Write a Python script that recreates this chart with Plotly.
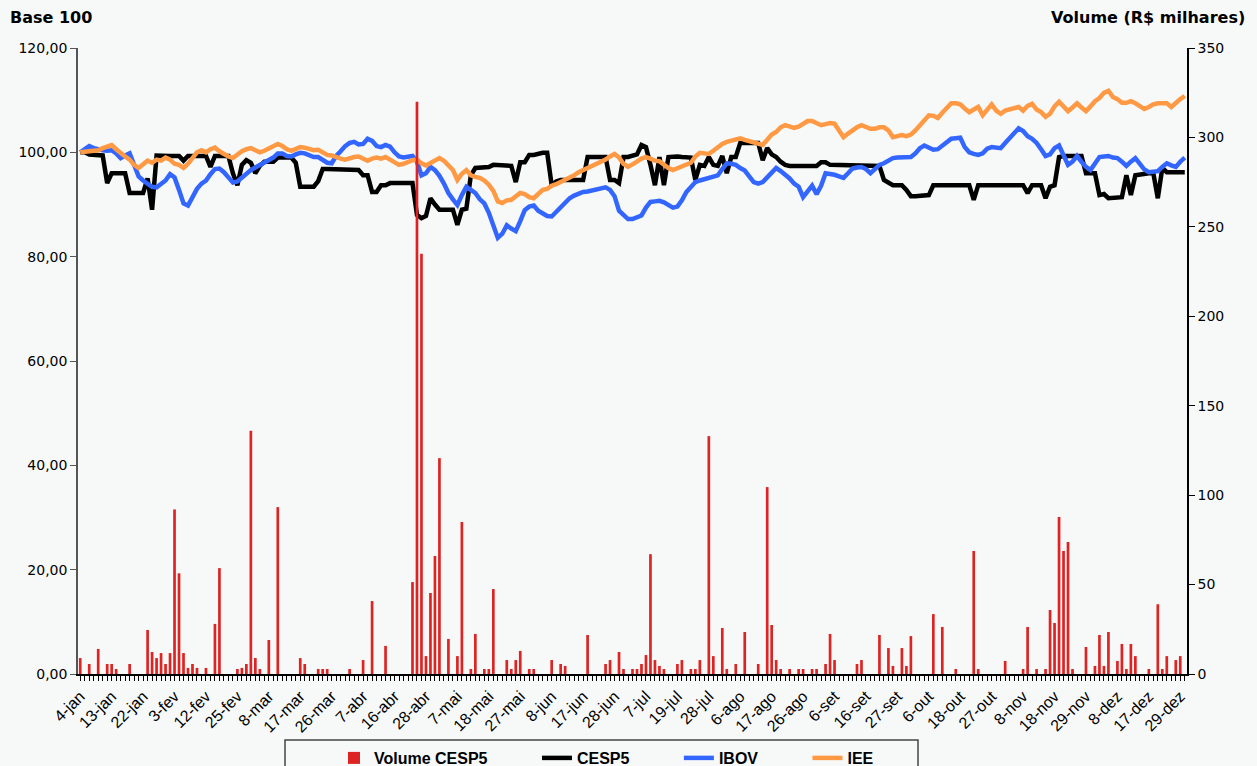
import plotly.graph_objects as go

tick_labels = ["4-jan", "13-jan", "22-jan", "3-fev", "12-fev", "25-fev", "8-mar", "17-mar",
               "26-mar", "7-abr", "16-abr", "28-abr", "7-mai", "18-mai", "27-mai", "8-jun",
               "17-jun", "28-jun", "7-jul", "19-jul", "28-jul", "6-ago", "17-ago", "26-ago",
               "6-set", "16-set", "27-set", "6-out", "18-out", "27-out", "8-nov", "18-nov",
               "29-nov", "8-dez", "17-dez", "29-dez"]

volume_cesp5 = [
    8.9, 0, 5.6, 0, 14, 0, 5.6, 5.6, 2.8, 0,
    0, 5.6, 0, 0, 0, 24.6, 12.3, 8.9, 11.7, 5.6,
    11.7, 92, 56.3, 11.7, 3.4, 5.6, 3.4, 0, 3.4, 0,
    28, 59.2, 0, 0, 0, 2.8, 3.4, 5.6, 136, 8.9,
    2.8, 0, 19, 0, 93.3, 0, 0, 0, 0, 8.9,
    5.6, 0, 0, 2.8, 2.8, 2.8, 0, 0, 0, 0,
    2.8, 0, 0, 7.8, 0, 40.8, 0, 0, 15.7, 0,
    0, 0, 0, 0, 51.4, 320, 235, 10, 45.3, 66,
    120.7, 0, 19.6, 0, 10, 85, 0, 2.8, 22.4, 0,
    2.8, 2.8, 47.5, 0, 0, 7.8, 2.8, 7.8, 12.9, 0,
    2.8, 2.8, 0, 0, 0, 7.8, 0, 5.6, 4.5, 0,
    0, 0, 0, 21.8, 0, 0, 0, 5.6, 7.8, 0,
    12.3, 2.8, 0, 2.8, 2.8, 5.6, 10.6, 67, 7.8, 4.5,
    2.8, 0, 0, 5.6, 7.8, 0, 2.8, 2.8, 7.8, 0,
    133, 10, 0, 25.7, 2.8, 0, 5.6, 0, 23.5, 0,
    0, 5.6, 0, 104.5, 27.4, 7.8, 2.8, 0, 2.8, 0,
    2.8, 2.8, 0, 2.8, 2.8, 0, 5.6, 22.4, 7.8, 0,
    0, 0, 0, 5.6, 7.8, 0, 0, 0, 21.8, 0,
    14.5, 4.5, 0, 14.5, 4.5, 21.2, 0, 0, 0, 0,
    33.5, 0, 26.3, 0, 0, 2.8, 0, 0, 0, 68.8,
    2.8, 0, 0, 0, 0, 0, 7.3, 0, 0, 0,
    2.8, 26.3, 0, 2.8, 0, 2.8, 35.8, 28.5, 87.8, 68.8,
    73.8, 2.8, 0, 0, 15.1, 0, 4.5, 21.8, 4.5, 23.5,
    0, 7.3, 16.8, 2.8, 16.8, 10, 0, 0, 2.8, 0,
    39, 2.8, 10, 0, 7.8, 10, 0]

cesp5 = [
    100.0, 100.0, 99.6, 99.6, 99.4, 99.4, 94.1, 96.0, 96.0, 96.0,
    96.0, 92.2, 92.2, 92.2, 92.2, 95.0, 89.0, 99.4, 99.3, 99.3,
    99.3, 99.3, 99.3, 98.4, 99.3, 99.3, 99.3, 99.3, 99.3, 97.2,
    99.3, 99.3, 99.3, 99.3, 96.0, 93.7, 97.6, 98.5, 98.0, 96.0,
    97.4, 98.2, 98.2, 98.2, 99.0, 99.0, 99.0, 99.0, 98.0, 93.4,
    93.4, 93.4, 93.4, 94.5, 96.8, 96.8, 96.8, 96.8, 96.8, 96.8,
    96.6, 96.6, 96.6, 95.6, 95.6, 92.4, 92.4, 93.7, 93.7, 94.1,
    94.1, 94.1, 94.1, 94.1, 94.1, 88.0, 87.4, 87.8, 91.2, 90.0,
    89.0, 89.0, 89.0, 89.0, 86.1, 89.0, 89.2, 95.6, 97.0, 97.0,
    97.2, 97.2, 97.6, 97.6, 97.6, 97.6, 97.4, 94.3, 98.1, 98.1,
    99.5, 99.5, 99.8, 99.9, 99.9, 93.7, 94.4, 94.7, 94.7, 94.7,
    94.7, 94.7, 94.7, 99.1, 99.1, 99.1, 99.1, 99.1, 94.7, 94.7,
    94.1, 99.1, 99.1, 99.3, 99.6, 101.4, 101.0, 97.6, 93.7, 99.1,
    93.7, 99.1, 99.2, 99.2, 99.1, 99.1, 99.0, 94.7, 97.6, 97.4,
    99.1, 97.6, 97.4, 99.3, 96.0, 99.1, 99.1, 101.8, 101.8, 101.8,
    101.8, 101.8, 98.5, 100.8, 99.6, 99.1, 98.2, 97.6, 97.4, 97.4,
    97.4, 97.4, 97.4, 97.4, 97.4, 98.1, 98.1, 97.6, 97.6, 97.6,
    97.4, 97.4, 97.4, 97.4, 97.4, 97.4, 97.4, 97.4, 97.4, 94.7,
    94.2, 93.7, 93.7, 93.7, 92.8, 91.6, 91.6, 91.6, 91.6, 91.8,
    93.7, 93.7, 93.7, 93.7, 93.7, 93.7, 93.7, 93.7, 93.7, 90.9,
    93.7, 93.7, 93.7, 93.7, 93.7, 93.7, 93.7, 93.7, 93.7, 93.7,
    93.7, 92.2, 93.7, 93.7, 93.7, 91.2, 93.4, 93.7, 99.1, 99.3,
    99.3, 99.3, 99.3, 99.3, 96.0, 96.0, 96.0, 91.8, 92.0, 91.2,
    91.2, 91.2, 91.4, 95.6, 91.8, 95.6, 95.8, 96.0, 96.0, 96.0,
    91.2, 97.0, 96.2, 96.2, 96.2, 96.2, 96.2]

ibov = [
    100.0, 100.5, 101.2, 100.8, 100.5, 100.4, 100.3, 100.4, 99.8, 98.9,
    99.4, 99.8, 97.6, 95.4, 94.6, 93.9, 93.4, 93.3, 94.0, 94.6,
    95.8, 95.2, 92.8, 90.2, 89.8, 91.6, 93.0, 94.0, 94.6, 95.8,
    96.8, 96.9, 96.2, 95.2, 94.2, 94.4, 95.2, 96.0, 96.6, 97.1,
    97.6, 98.0, 98.4, 99.0, 99.8, 99.8, 99.3, 99.2, 99.6, 99.9,
    99.8, 99.4, 99.1, 99.1, 98.6, 98.0, 97.9, 99.3, 100.2, 101.2,
    101.8, 102.0, 101.5, 101.6, 102.6, 102.2, 101.2, 101.0, 101.4, 101.1,
    100.0, 99.2, 99.0, 99.2, 99.3, 98.2, 95.6, 96.0, 97.2, 96.6,
    95.5, 94.0, 92.2, 91.0, 89.9, 91.8, 93.4, 92.8, 92.2, 91.0,
    90.2, 88.4, 86.2, 83.6, 84.4, 86.0, 85.4, 84.9, 86.8, 88.9,
    89.6, 89.8, 88.8, 88.3, 87.8, 87.7, 88.6, 89.5, 90.4, 91.2,
    91.7, 92.1, 92.4, 92.5, 92.7, 92.8, 93.2, 93.3, 92.8, 91.6,
    88.8, 88.0, 87.2, 87.2, 87.5, 87.9, 89.4, 90.5, 90.6, 90.7,
    90.4, 89.9, 89.4, 89.6, 90.8, 92.4, 93.5, 94.3, 94.6, 94.9,
    95.1, 95.3, 95.6, 96.8, 97.9, 97.8, 97.6, 97.0, 96.5, 95.4,
    94.3, 94.0, 94.3, 95.2, 96.2, 97.0, 96.4, 95.8, 95.0, 94.0,
    93.4, 91.4, 92.6, 93.6, 92.0, 93.6, 96.0, 95.9, 95.7, 95.4,
    95.1, 96.0, 96.9, 97.1, 97.2, 96.8, 96.0, 96.8, 97.6, 97.9,
    98.4, 98.9, 99.0, 99.0, 99.1, 99.1, 99.8, 100.8, 101.3, 101.0,
    100.5, 100.6, 101.3, 102.0, 102.6, 102.7, 102.8, 101.0, 100.0, 99.7,
    99.5, 99.8, 100.7, 101.0, 100.9, 100.8, 101.8, 102.7, 103.8, 104.6,
    104.1, 103.1, 102.6, 101.8, 100.6, 99.3, 99.6, 100.8, 101.3, 99.4,
    97.6, 98.2, 99.3, 98.2, 97.2, 96.6, 98.0, 99.1, 99.2, 99.3,
    99.0, 98.9, 98.2, 97.4, 98.2, 98.9, 97.8, 96.7, 96.2, 96.3,
    96.4, 97.2, 97.9, 97.5, 97.2, 98.2, 99.0]

iee = [
    100.0, 100.1, 100.3, 100.5, 100.4, 100.8, 101.2, 101.4, 100.6, 99.8,
    99.2, 98.6, 97.6, 97.0, 97.6, 98.4, 98.0, 98.6, 98.4, 99.0,
    98.6, 97.8, 97.6, 97.0, 97.8, 98.8, 100.0, 100.4, 100.0, 100.6,
    100.9, 100.2, 99.6, 99.2, 98.9, 99.6, 100.2, 100.6, 100.8, 100.4,
    100.0, 100.3, 100.8, 101.2, 101.6, 101.2, 100.6, 100.3, 100.6, 101.0,
    100.9, 100.6, 100.4, 100.5, 100.0, 99.5, 99.4, 99.0, 98.8, 98.6,
    98.9, 99.1, 99.2, 98.8, 98.4, 98.8, 99.0, 98.8, 99.1, 98.6,
    98.0, 97.6, 97.8, 98.2, 98.5, 98.6, 97.9, 97.5, 98.0, 98.6,
    98.9, 98.4, 97.4, 96.6, 94.7, 95.9, 96.6, 95.6, 95.3, 95.1,
    94.6, 93.8, 92.6, 90.6, 90.3, 90.8, 90.9, 91.6, 92.2, 92.0,
    91.4, 91.2, 92.0, 92.8, 93.0, 93.6, 93.9, 94.3, 94.7, 95.0,
    95.6, 96.2, 96.6, 97.0, 97.4, 97.8, 98.1, 98.6, 99.2, 99.7,
    99.0, 97.8, 97.2, 97.6, 98.2, 98.8, 99.1, 98.8, 98.4, 98.3,
    97.6, 97.0, 96.6, 96.9, 97.3, 97.6, 98.0, 99.2, 99.9, 99.8,
    99.7, 100.3, 101.0, 101.6, 102.0, 102.3, 102.6, 102.7, 102.4, 102.2,
    102.0, 101.7, 101.4, 102.4, 103.4, 103.9, 104.8, 105.2, 104.9, 104.7,
    104.9, 105.5, 106.0, 106.0, 105.5, 105.2, 105.4, 105.6, 105.5, 104.2,
    102.9, 103.6, 104.3, 104.8, 105.2, 104.8, 104.5, 104.5, 104.8, 104.8,
    104.2, 102.9, 103.0, 103.3, 103.1, 103.4, 104.2, 105.2, 106.4, 107.1,
    107.0, 106.6, 107.6, 108.6, 109.4, 109.4, 109.2, 108.4, 107.7, 108.2,
    108.7, 107.1, 108.2, 109.2, 108.0, 107.4, 108.0, 108.3, 108.5, 108.7,
    108.0, 108.9, 109.3, 108.2, 107.7, 106.8, 107.4, 108.8, 109.7, 108.9,
    107.9, 108.6, 109.4, 108.6, 107.9, 108.8, 109.8, 110.4, 111.4, 111.8,
    110.6, 110.2, 109.5, 109.5, 109.8, 109.4, 108.8, 108.3, 108.7, 109.2,
    109.4, 109.4, 109.4, 108.7, 109.5, 110.2, 110.8]

series_names = ["Volume CESP5", "CESP5", "IBOV", "IEE"]

n = len(cesp5)
x = list(range(n))
ticktext = [tick_labels[i // 7] if i % 7 == 0 and i // 7 < len(tick_labels) else "" for i in x]

PLOT_L, PLOT_R, PLOT_T, PLOT_B = 78, 1187, 48, 674
PW, PH = PLOT_R - PLOT_L, PLOT_B - PLOT_T


def px(xp):
    return (xp - PLOT_L) / PW


def py(yp):
    return (PLOT_B - yp) / PH


pad = "\u00a0" * 10

fig = go.Figure()
fig.add_trace(go.Bar(x=x, y=volume_cesp5, name=series_names[0] + pad, yaxis="y2",
                     width=0.6, marker=dict(color="#DE2323", line=dict(width=0))))
fig.add_trace(go.Scatter(x=x, y=cesp5, name=series_names[1] + pad, mode="lines",
                         line=dict(color="#000000", width=4.5)))
fig.add_trace(go.Scatter(x=x, y=ibov, name=series_names[2] + pad, mode="lines",
                         line=dict(color="#3366FF", width=4.5)))
fig.add_trace(go.Scatter(x=x, y=iee, name=series_names[3], mode="lines",
                         line=dict(color="#FF9944", width=4.5)))

bg = "#F7F9F9"
fig.update_layout(
    width=1257, height=766,
    margin=dict(l=PLOT_L, r=1257 - PLOT_R, t=PLOT_T, b=766 - PLOT_B, autoexpand=False),
    paper_bgcolor=bg, plot_bgcolor=bg,
    separators=",.",
    legend=dict(orientation="h", x=px(334), xanchor="left", y=py(741), yanchor="top",
                borderwidth=0, bgcolor="rgba(0,0,0,0)",
                font=dict(family="Liberation Sans", size=16, color="#000000", weight="bold"),
                traceorder="normal", itemwidth=30),
    xaxis=dict(range=[-0.5, n - 0.5], tickmode="array", tickvals=x, ticktext=ticktext,
               tickangle=-45, ticks="outside", ticklen=5, tickcolor="#000000",
               showline=True, linecolor="#000000", linewidth=1.5,
               showgrid=False, zeroline=False,
               tickfont=dict(family="Liberation Sans", size=16, color="#000000")),
    yaxis=dict(range=[0, 120], dtick=20, tick0=0, tickformat=".2f",
               ticks="outside", ticklen=6, tickcolor="#555555",
               showline=True, linecolor="#555555", linewidth=1.5,
               showgrid=False, zeroline=False,
               tickfont=dict(family="DejaVu Sans", size=14, color="#000000")),
    yaxis2=dict(range=[0, 350], dtick=50, tick0=0, overlaying="y", side="right",
                ticks="outside", ticklen=6, tickcolor="#000000",
                showline=True, linecolor="#000000", linewidth=1.5,
                showgrid=False, zeroline=False,
                tickfont=dict(family="DejaVu Sans", size=14, color="#000000")),
    yaxis3=dict(range=[0, 350], dtick=50, tick0=0, overlaying="y", side="right",
                ticks="inside", ticklen=6, tickcolor="#000000", showticklabels=False,
                showline=False, showgrid=False, zeroline=False),
    shapes=[dict(type="rect", xref="paper", yref="paper",
                 x0=px(285), x1=px(918), y0=py(775), y1=py(740),
                 line=dict(color="#444444", width=1.5), fillcolor="rgba(0,0,0,0)",
                 layer="above")],
    annotations=[
        dict(text="<b>Base 100</b>", xref="paper", yref="paper", x=px(8), y=py(18),
             xanchor="left", yanchor="middle", showarrow=False,
             font=dict(family="DejaVu Sans", size=16, color="#000000")),
        dict(text="<b>Volume (R$ milhares)</b>", xref="paper", yref="paper", x=px(1247), y=py(18),
             xanchor="right", yanchor="middle", showarrow=False,
             font=dict(family="DejaVu Sans", size=16, color="#000000")),
    ],
)

fig.write_html("out.html", config={"displayModeBar": False},
               post_script="document.body.style.margin='0';document.body.style.background='#F7F9F9';")
